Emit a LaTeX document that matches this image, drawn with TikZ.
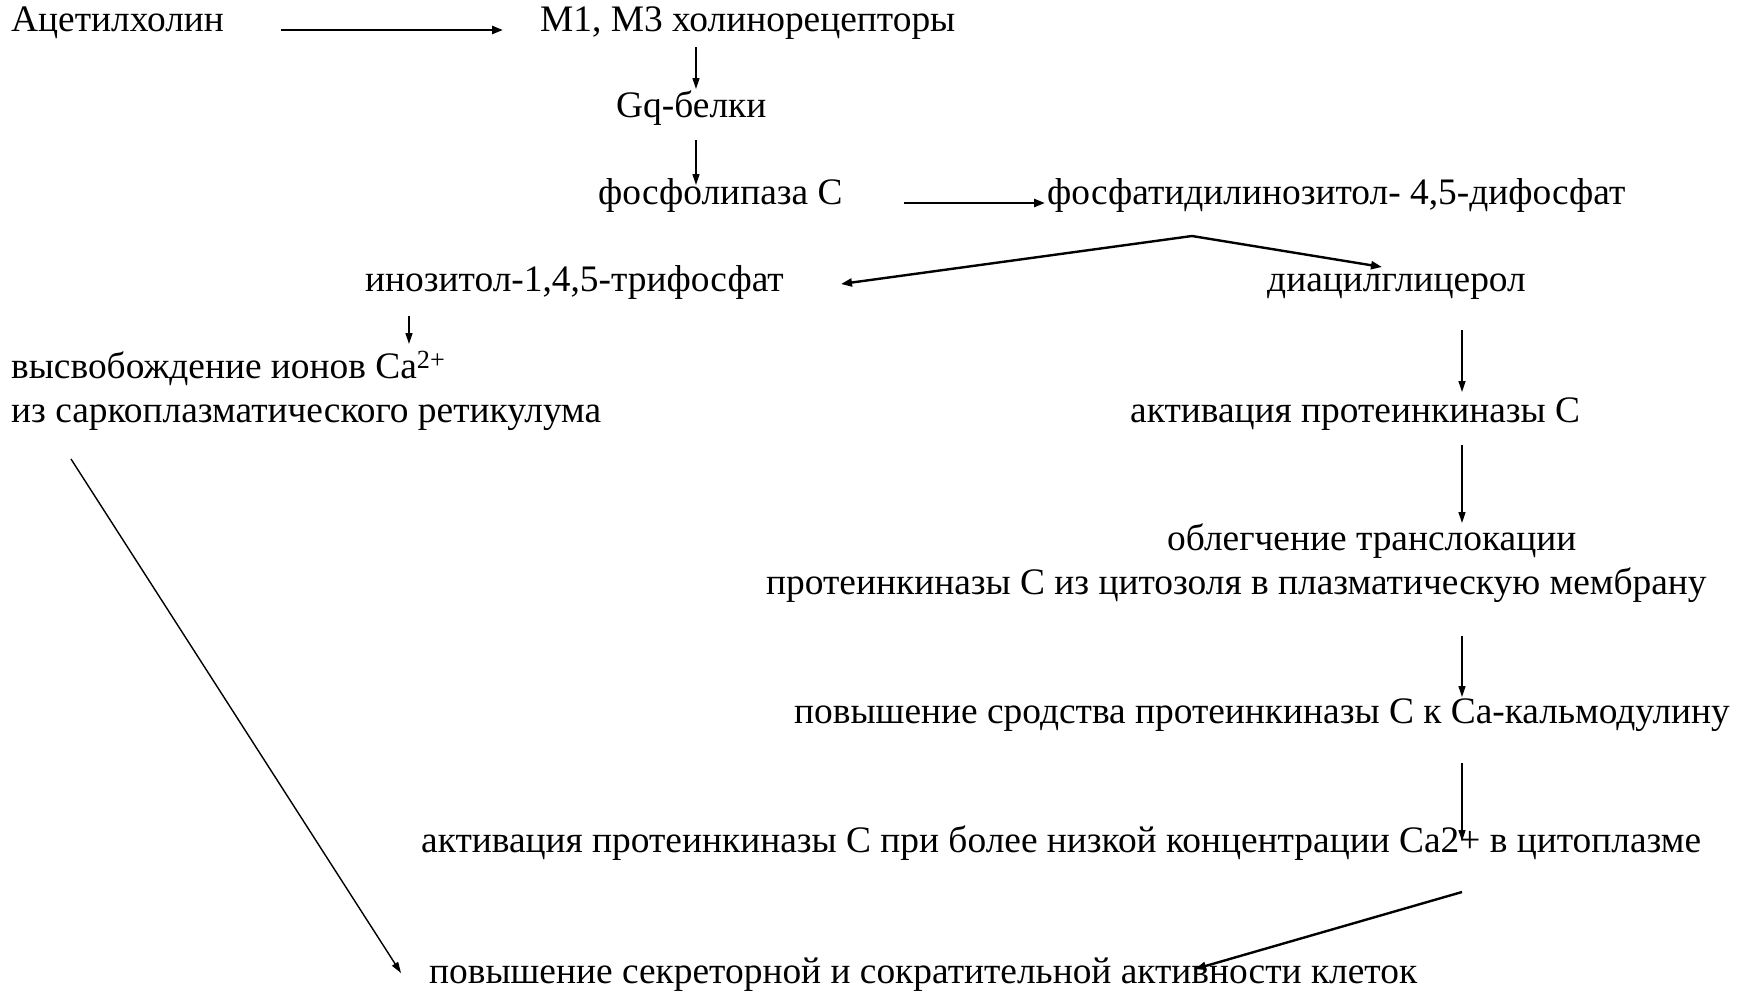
\documentclass[tikz,border=0pt]{standalone}
\usepackage{fontspec}
\setmainfont{Liberation Serif}
\usetikzlibrary{arrows.meta,calc}
\begin{document}
\begin{tikzpicture}[x=1pt,y=-1pt,
  lbl/.style={anchor=base west,inner sep=0pt,font=\fontsize{37.4}{44}\selectfont,align=left},
  thinarr/.style={line width=1.4pt,-{Triangle[length=11pt,width=7pt]}},
  thickarr/.style={line width=2.4pt,-{Triangle[length=11pt,width=8pt]}}]
\fill[white] (0,0) rectangle (1746,994);
\useasboundingbox (0,0) rectangle (1746,994);

\node[lbl] (ach) at (11,31) {Ацетилхолин};
\node[lbl] (m1) at (540,31) {М1, М3 холинорецепторы};
\node[lbl] (gq) at (616,117) {Gq-белки};
\node[lbl] (plc) at (598,204) {фосфолипаза С};
\node[lbl] (pip) at (1047,204) {фосфатидилинозитол- 4,5-дифосфат};
\node[lbl] (ip3) at (365,291) {инозитол-1,4,5-трифосфат};
\node[lbl] (dag) at (1267,291) {диацилглицерол};
\node[lbl] (ca) at (11,422) {высвобождение ионов Ca\textsuperscript{2+}\\из саркоплазматического ретикулума};
\node[lbl] (apk) at (1130,422) {активация протеинкиназы С};
\node[lbl] (tr) at (766,594) {\hspace*{401pt}облегчение транслокации\\протеинкиназы С из цитозоля в плазматическую мембрану};
\node[lbl] (aff) at (794,723) {повышение сродства протеинкиназы С к Са-кальмодулину};
\node[lbl] (low) at (421,852) {активация протеинкиназы С при более низкой концентрации Са2+ в цитоплазме};
\node[lbl] (fin) at (429,983) {повышение секреторной и сократительной активности клеток};

\draw[thickarr] ($(ach.base west)+(270,-1)$) -- ($(m1.base west)+(-37,-1)$);
\draw[thinarr] ($(m1.base west)+(156,16)$) -- ($(gq.base west)+(80,-28)$);
\draw[thinarr] ($(gq.base west)+(80,23)$) -- ($(plc.base west)+(98,-19)$);
\draw[thickarr] ($(plc.base west)+(306,-1)$) -- ($(pip.base west)+(-2,-1)$);
\coordinate (apex) at ($(pip.base west)+(145,32)$);
\draw[thickarr] (apex) -- ($(ip3.base west)+(476,-7)$);
\draw[thickarr] (apex) -- ($(dag.base west)+(115,-24)$);
\draw[thinarr] ($(ip3.base west)+(44,25)$) -- ($(ca.base west)+(398,-78)$);
\draw[thinarr] ($(dag.base west)+(195,39)$) -- ($(apk.base west)+(332,-30)$);
\draw[thinarr] ($(apk.base west)+(332,23)$) -- ($(tr.base west)+(696,-71)$);
\draw[thinarr] ($(tr.base west)+(696,42)$) -- ($(aff.base west)+(668,-26)$);
\draw[thinarr] ($(aff.base west)+(668,40)$) -- ($(low.base west)+(1041,-11)$);
\draw[thickarr] ($(low.base west)+(1041,40)$) -- ($(fin.base west)+(766,-14)$);
\draw[thinarr] ($(ca.base west)+(60,37)$) -- ($(fin.base west)+(-28,-10)$);
\end{tikzpicture}
\end{document}
